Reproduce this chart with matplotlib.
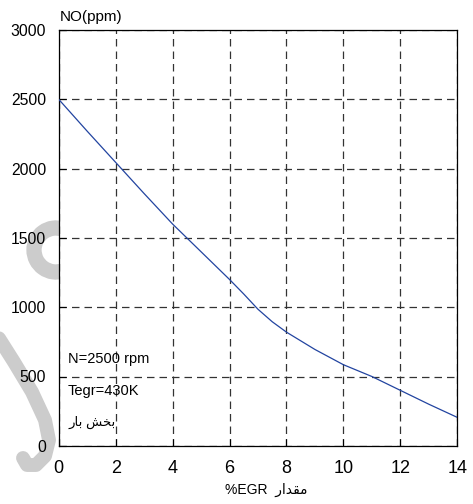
import matplotlib
matplotlib.use("Agg")
import matplotlib.pyplot as plt
import numpy as np
from matplotlib.lines import Line2D
from matplotlib.patches import Arc

# ---- data ----
egr = [0, 1, 2, 3, 4, 5, 6, 6.5, 7, 7.5, 8, 9, 10, 11, 12, 13, 14]
no_ppm = [2500, 2270, 2045, 1820, 1600, 1400, 1200, 1095, 985, 895, 820, 695, 585, 500, 400, 300, 205]
xticks = [0, 2, 4, 6, 8, 10, 12, 14]
yticks = [0, 500, 1000, 1500, 2000, 2500, 3000]
ylabel_text = "NO(ppm)"
# Arabic script written in presentation forms, visual (left-to-right) order
xlabel_text = "%EGR  \uFEAD\uFE8D\uFEAA\uFED8\uFEE3"
ann_lines = ["N=2500 rpm", "Tegr=430K", "\uFEAD\uFE8E\uFE91 \uFEB6\uFEA8\uFE91"]

plt.rcParams['font.family'] = ['Liberation Sans', 'DejaVu Sans']

W, H = 473, 504
fig = plt.figure(figsize=(W / 100, H / 100), dpi=100)

def fx(px):
    return px / W

def fy(py):
    return 1 - py / H

# watermark-like grey shapes behind the axes
wm_x = [-5, 14, 32, 45, 49, 45, 36, 27, 23]
wm_y = [332, 362, 392, 420, 440, 456, 465, 465, 458]
fig.add_artist(Line2D([fx(v) for v in wm_x], [fy(v) for v in wm_y],
                      transform=fig.transFigure, color='#cccccc', lw=10,
                      solid_capstyle='round', solid_joinstyle='round', zorder=0))
arc = Arc((fx(56), fy(250)), 2 * 22 / W, 2 * 22 / H, theta1=70, theta2=290,
          transform=fig.transFigure, color='#cccccc', lw=11, zorder=0)
fig.add_artist(arc)

ax = fig.add_axes([fx(58.7), fy(445.8), fx(457.3) - fx(58.7), fy(30) - fy(445.8)])
ax.set_facecolor('white')
ax.set_zorder(1)

ax.plot(egr, no_ppm, color='#2244a0', lw=0.9, zorder=3)

ax.set_xlim(0, 14)
ax.set_ylim(0, 3000)
ax.set_xticks(xticks)
ax.set_yticks(yticks)
ax.tick_params(axis='x', direction='in', length=5, width=0.8, labelsize=13, pad=10)
ax.tick_params(axis='y', direction='in', length=5, width=0.8, labelsize=11.3, pad=9)
for s in ax.spines.values():
    s.set_linewidth(0.9)
    s.set_color('black')

ax.grid(True, color='#333333', linestyle=(0, (6, 4)), linewidth=0.9)
ax.set_axisbelow(True)

fig.text(fx(60), fy(17), ylabel_text, fontsize=11, ha='left', va='center')
fig.text(fx(266), fy(490), xlabel_text, fontsize=10, ha='center', va='center')

ann_y = [359, 391, 422]
for t, yy in zip(ann_lines, ann_y):
    fig.text(fx(68), fy(yy), t, fontsize=10.5 if yy < 420 else 9.5, ha='left', va='center',
             zorder=5)

fig.savefig("out.png", dpi=100)
